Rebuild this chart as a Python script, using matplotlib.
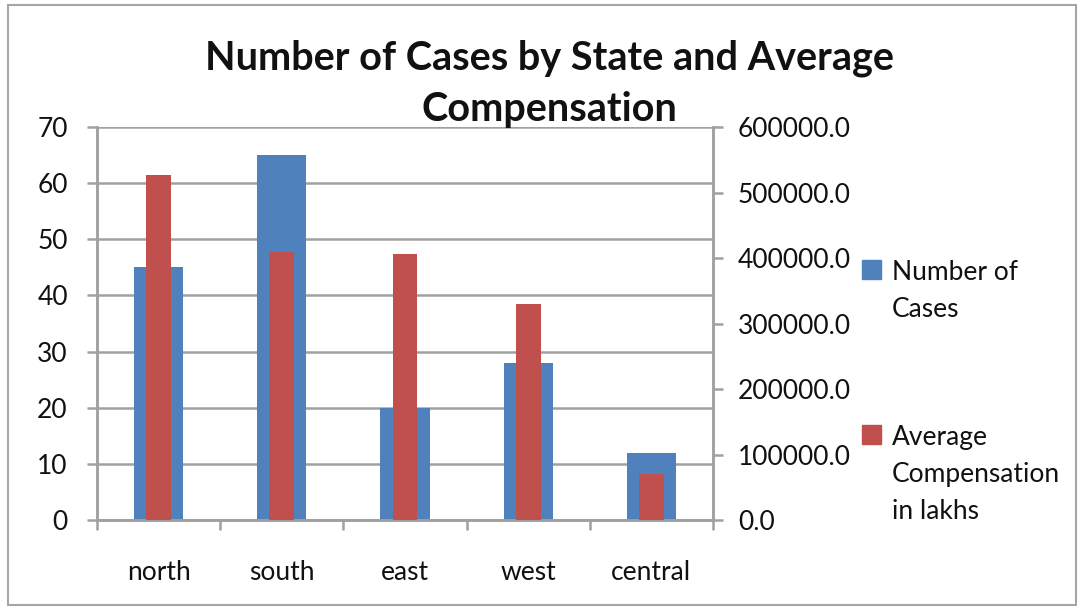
import matplotlib.pyplot as plt
from matplotlib.patches import Rectangle, Patch
from matplotlib.ticker import FormatStrFormatter
import numpy as np

# data
regions = ['north', 'south', 'east', 'west', 'central']
cases = [45, 65, 20, 28, 12]
compensation = [526000, 409000, 406000, 330000, 70000]

BLUE = '#4F81BD'
RED = '#C0504D'
GRID = '#a0a0a0'
TXT = '#111111'
FS = 19

plt.rcParams['font.family'] = ['Lato', 'DejaVu Sans']

fig = plt.figure(figsize=(10.81, 6.09), dpi=100)
# outer chart border
fig.patches.append(Rectangle((8 / 1081, 4 / 609), 1068 / 1081, 600 / 609,
                             transform=fig.transFigure, fill=False,
                             edgecolor='#a6a6a6', linewidth=1.5))

ax = fig.add_axes([97 / 1081, 89 / 609, 616 / 1081, 393 / 609])
x = np.arange(len(regions))

ax.bar(x, cases, width=0.4, color=BLUE, zorder=2)
ax.set_xlim(-0.5, len(regions) - 0.5)
ax.set_ylim(0, 70)
ax.set_yticks(range(0, 71, 10))
ax.yaxis.grid(True, color=GRID, linewidth=1.8, zorder=0)
ax.set_axisbelow(True)

ax2 = ax.twinx()
ax2.bar(x, compensation, width=0.2, color=RED, zorder=3)
ax2.set_ylim(0, 600000)
ax2.set_yticks(range(0, 600001, 100000))
ax2.yaxis.set_major_formatter(FormatStrFormatter('%.1f'))

for a in (ax, ax2):
    a.spines['top'].set_visible(False)
    for s in ('left', 'right', 'bottom'):
        a.spines[s].set_color(GRID)
        a.spines[s].set_linewidth(1.8)

ax.set_xticks(x)
ax.set_xticklabels(regions)
ax.set_xticks(np.arange(-0.5, len(regions), 1.0), minor=True)
ax.tick_params(axis='x', which='major', length=0, pad=29, labelsize=FS, colors=TXT)
ax.tick_params(axis='x', which='minor', length=7, width=1.8, color=GRID)
ax.tick_params(axis='y', length=7, width=1.8, color=GRID, labelsize=FS,
               labelcolor=TXT, pad=14)
ax2.tick_params(axis='y', length=7, width=1.8, color=GRID, labelsize=FS,
                labelcolor=TXT, pad=11)

# two-line title, Excel style
fig.text(0.508, 1 - 58 / 609, 'Number of Cases by State and Average',
         ha='center', va='center', fontsize=28.5, fontweight='bold', color=TXT)
fig.text(0.508, 1 - 109 / 609, 'Compensation',
         ha='center', va='center', fontsize=28.5, fontweight='bold', color=TXT)

handles = [Patch(color=BLUE), Patch(color=RED)]
labels = ['Number of\nCases', 'Average\nCompensation\nin lakhs']
leg = fig.legend(handles, labels, loc='upper left', bbox_to_anchor=(862 / 1081, 1 - 260 / 609),
                 frameon=False, fontsize=FS, handlelength=0.72, handleheight=0.72,
                 handletextpad=0.42, labelspacing=3.9, borderaxespad=0, borderpad=0,
                 labelcolor=TXT)
for t in leg.get_texts():
    t.set_linespacing(1.6)
# put the colour square beside the first line of each label
for col in leg._legend_handle_box.get_children():
    for item in col.get_children():
        item.align = 'top'

fig.savefig('out.png', dpi=100)
